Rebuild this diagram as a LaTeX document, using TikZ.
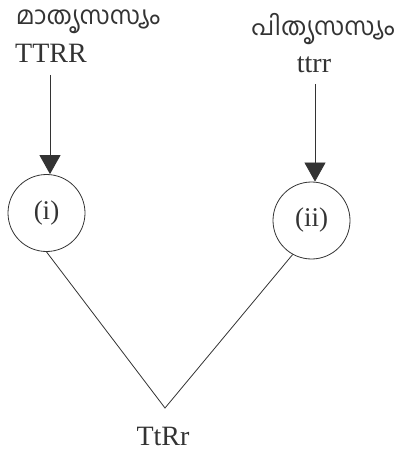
\documentclass[tikz,border=0pt]{standalone}
\usepackage{fontspec}
\setmainfont{Liberation Serif}
\newfontfamily\mlfont[Script=Malayalam]{Hind Kochi}
\usetikzlibrary{arrows.meta}
\definecolor{ink}{rgb}{0.2,0.2,0.2}
\begin{document}
\begin{tikzpicture}[x=1pt,y=1pt,
  ml/.style={font=\mlfont\fontsize{25}{29}\selectfont, text=ink, inner sep=0pt, anchor=base, text depth=0pt},
  lbl/.style={font=\fontsize{28}{32}\selectfont, text=ink, inner sep=0pt},
  ring/.style={circle, draw=ink, line width=0.8pt, minimum size=77pt, inner sep=0pt, font=\fontsize{27}{31}\selectfont, text=ink},
  conn/.style={draw=ink, line width=0.8pt},
  arr/.style={conn, -{Triangle[length=19pt,width=21pt]}}]
\useasboundingbox (0,0) rectangle (401,-454);
\node[ml] (m1) at (88,-25) {മാതൃസസ്യം};
\node[lbl, anchor=base west] (t1) at (15,-63) {TTRR};
\node[ml] (m2) at (323,-36) {പിതൃസസ്യം};
\node[lbl, anchor=base] (t2) at (314,-73) {ttrr};
\node[ring] (c1) at (46.5,-213) {(i)};
\node[ring] (c2) at (311.5,-220.5) {(ii)};
\coordinate (v) at (165,-408);
\node[lbl, anchor=base] (r) at (163,-445) {TtRr};
\coordinate (a1) at (50,-75);
\coordinate (a2) at (315,-84);
\draw[arr] (a1) -- (a1 |- c1.north);
\draw[arr] (a2) -- (a2 |- c2.north);
\draw[conn] (c1.south) -- (v) -- (c2.241);
\end{tikzpicture}
\end{document}
